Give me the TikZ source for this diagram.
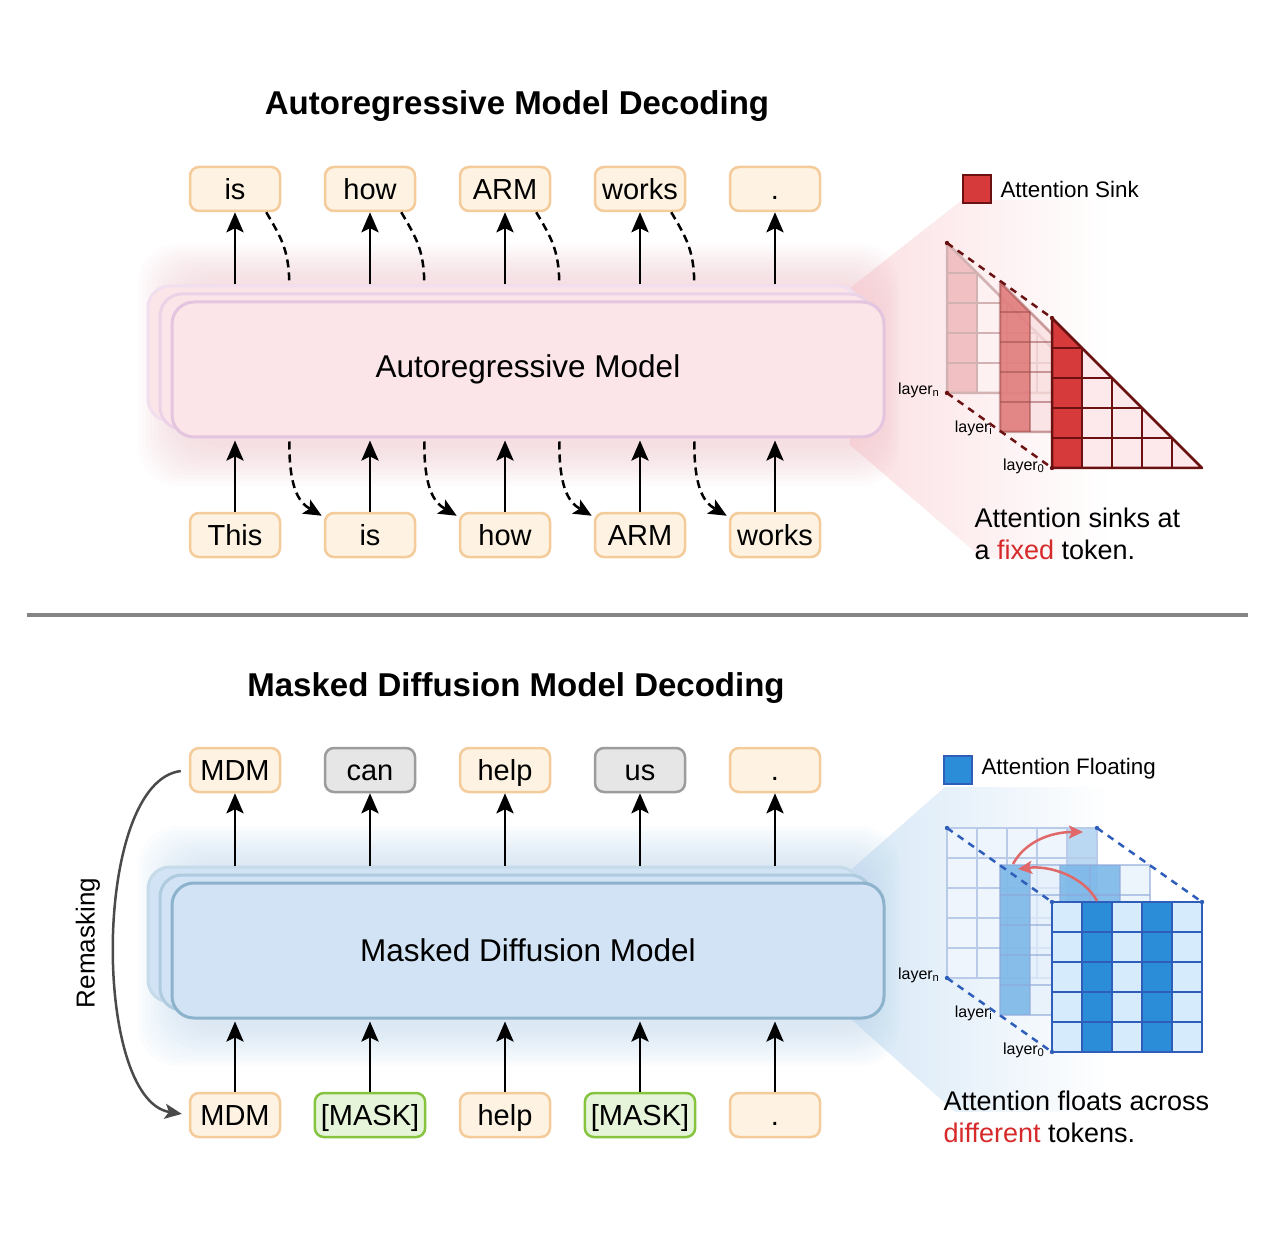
\documentclass[tikz,border=0pt]{standalone}
\usepackage{fontspec}
\setmainfont{Liberation Sans}
\usetikzlibrary{arrows.meta}
\definecolor{tokF}{HTML}{FEF3E2}
\definecolor{tokD}{HTML}{F4CB9A}
\definecolor{grayF}{HTML}{E6E6E6}
\definecolor{grayD}{HTML}{9C9C9C}
\definecolor{greenF}{HTML}{E6F5DA}
\definecolor{greenD}{HTML}{86C440}
\definecolor{arF}{HTML}{FBE5E8}
\definecolor{arD}{HTML}{E3C5DF}
\definecolor{arD2}{HTML}{EBD2E7}
\definecolor{arD3}{HTML}{F1DEEE}
\definecolor{arGlow}{HTML}{F6C8CF}
\definecolor{coneR}{HTML}{FBDFE2}
\definecolor{mdF}{HTML}{D1E3F5}
\definecolor{mdD}{HTML}{8DB3CC}
\definecolor{mdD2}{HTML}{AFCBDF}
\definecolor{mdD3}{HTML}{C6DBEA}
\definecolor{mdGlow}{HTML}{C2DAF1}
\definecolor{coneB}{HTML}{D6E7F6}
\definecolor{sinkC}{HTML}{D63A3A}
\definecolor{sinkD}{HTML}{6B1111}
\definecolor{sinkL}{HTML}{FDE8EC}
\definecolor{midRL}{HTML}{F9DCDE}
\definecolor{midRC}{HTML}{DE6F6F}
\definecolor{midRD}{HTML}{9A4A4A}
\definecolor{backRL}{HTML}{FDF1F2}
\definecolor{backRC}{HTML}{F1C0C2}
\definecolor{backRD}{HTML}{D2B2B2}
\definecolor{floatC}{HTML}{2B8CD8}
\definecolor{floatD}{HTML}{2E5DBA}
\definecolor{floatL}{HTML}{D6EBFB}
\definecolor{midBL}{HTML}{E4F0FB}
\definecolor{midBC}{HTML}{66ACE4}
\definecolor{midBD}{HTML}{8EA8DA}
\definecolor{backBL}{HTML}{EEF5FD}
\definecolor{backBC}{HTML}{BAD8F1}
\definecolor{backBD}{HTML}{BACBEA}
\definecolor{redtxt}{HTML}{D62A2A}
\definecolor{arrRed}{HTML}{E06868}
\definecolor{sepC}{HTML}{858585}
\definecolor{remC}{HTML}{4A4A4A}
\begin{document}
\begin{tikzpicture}[x=1pt,y=-1pt,
  tok/.style={draw=tokD, fill=tokF, line width=2.5pt, rounded corners=9pt,
    minimum width=90pt, minimum height=44pt, inner xsep=6pt, inner ysep=0pt,
    font=\fontsize{29}{34}\selectfont, text height=24pt, text depth=3pt},
  gtok/.style={tok, draw=grayD, fill=grayF},
  mtok/.style={tok, draw=greenD, fill=greenF},
  modelbox/.style={line width=3pt, rounded corners=22pt, minimum width=712pt,
    minimum height=135pt, font=\fontsize{31.5}{37}\selectfont},
  uparr/.style={line width=2.8pt, -{Stealth[length=20pt,width=17pt,inset=4pt]}},
  dsh/.style={line width=2.5pt, dash pattern=on 8pt off 5pt},
  dsharr/.style={dsh, -{Stealth[length=18pt,width=16pt,inset=4pt]}},
  title/.style={font=\fontsize{33}{38}\selectfont\bfseries},
  legtxt/.style={font=\fontsize{22.4}{26}\selectfont, anchor=west},
  captxt/.style={font=\fontsize{27}{32}\selectfont, anchor=base west},
  laytxt/.style={font=\fontsize{16}{18}\selectfont, anchor=east},
  rline/.style={sinkD, line width=2.5pt, dash pattern=on 7pt off 6pt},
  bline/.style={floatD, line width=2.5pt, dash pattern=on 7pt off 6pt},
]
\useasboundingbox (0,0) rectangle (1275,1238);
\fill[white] (0,0) rectangle (1275,1238);

% ================= TOP: Autoregressive =================
\node[title] (t1) at (517,106) {Autoregressive Model Decoding};

% cone
\shade[left color=coneR, right color=white] (845,292) -- (962,200) -- (1110,200) -- (1110,558) -- (982,558) -- (850,445) -- cycle;
% glow
\foreach \k in {0,...,11} {
  \fill[arGlow, fill opacity=0.06, rounded corners=40pt] ({138+\k*4},{244+\k*3.5}) rectangle ({900-\k*2},{486-\k*3.5});
}
% model stack
\node[modelbox, draw=arD3, fill=arF] (arm3) at (504,353.5) {};
\node[modelbox, draw=arD2, fill=arF] (arm2) at (516,361.5) {};
\node[modelbox, draw=arD, fill=arF] (arm) at (528,369.5) {Autoregressive Model};

% tokens
\node[tok] (a1) at (235,189) {is};
\node[tok] (a2) at (370,189) {how};
\node[tok] (a3) at (505,189) {ARM};
\node[tok] (a4) at (640,189) {works};
\node[tok] (a5) at (775,189) {.};
\node[tok] (b1) at (235,535) {This};
\node[tok] (b2) at (370,535) {is};
\node[tok] (b3) at (505,535) {how};
\node[tok] (b4) at (640,535) {ARM};
\node[tok] (b5) at (775,535) {works};

\foreach \i in {1,...,5} {
  \draw[uparr] (a\i.south |- arm3.north) -- (a\i.south);
  \draw[uparr] (b\i.north) -- ([yshift=-2pt]b\i.north |- arm.south);
}
\foreach \i/\j in {1/2,2/3,3/4,4/5} {
  \draw[dsh] ([xshift=-15pt]a\i.south east) .. controls +(14,24) and +(0,-35) .. ([xshift=8pt]a\i.south east |- arm3.north);
  \draw[dsharr] ([xshift=8pt,yshift=-3pt]b\i.east |- arm.south) .. controls +(0,45) and +(-24,-14) .. ([xshift=-2pt,yshift=-4pt]b\j.north west);
}

% legend
\node[draw=sinkD, fill=sinkC, line width=2.5pt, minimum size=28pt, inner sep=0pt] (ls) at (977,189) {};
\node[legtxt] (lst) at (997,189) {Attention Sink};

% back triangular matrix
\begin{scope}[shift={(947,243)}]
  \fill[backRL] (0,0) -- (0,150) -- (150,150) -- cycle;
  \fill[backRC] (0,0) -- (0,150) -- (30,150) -- (30,30) -- cycle;
  \foreach \i in {1,...,4} {
    \draw[backRD, line width=2.5pt] (30*\i,30*\i) -- (30*\i,150);
    \draw[backRD, line width=2.5pt] (0,30*\i) -- (30*\i,30*\i);
  }
  \draw[backRD, line width=2.5pt, line join=round] (0,0) -- (0,150) -- (150,150) -- cycle;
\end{scope}
% middle
\begin{scope}[shift={(1000,282)}]
  \fill[midRL, fill opacity=0.7] (0,0) -- (0,150) -- (150,150) -- cycle;
  \fill[midRC, fill opacity=0.8] (0,0) -- (0,150) -- (30,150) -- (30,30) -- cycle;
  \foreach \i in {1,...,4} {
    \draw[midRD, draw opacity=0.5, line width=2.5pt] (30*\i,30*\i) -- (30*\i,150);
    \draw[midRD, draw opacity=0.5, line width=2.5pt] (0,30*\i) -- (30*\i,30*\i);
  }
  \draw[midRD, draw opacity=0.5, line width=2.5pt, line join=round] (0,0) -- (0,150) -- (150,150) -- cycle;
\end{scope}
% front
\begin{scope}[shift={(1052,318)}]
  \fill[sinkL] (0,0) -- (0,150) -- (150,150) -- cycle;
  \fill[sinkC] (0,0) -- (0,150) -- (30,150) -- (30,30) -- cycle;
  \foreach \i in {1,...,4} {
    \draw[sinkD, line width=2.5pt] (30*\i,30*\i) -- (30*\i,150);
    \draw[sinkD, line width=2.5pt] (0,30*\i) -- (30*\i,30*\i);
  }
  \draw[sinkD, line width=2.5pt, line join=round] (0,0) -- (0,150) -- (150,150) -- cycle;
\end{scope}
\coordinate (rn1) at (947,243); \coordinate (r01) at (1052,318);
\coordinate (rn2) at (947,393); \coordinate (r02) at (1052,468);
\draw[rline] (rn1) -- (r01);
\draw[rline] (rn2) -- (r02);
\foreach \p in {rn1,r01,rn2,r02} \fill[sinkD] (\p) circle (2.2pt);

\node[laytxt] (ln1) at (943,390) {layer\textsubscript{n}};
\node[laytxt] (li1) at (996,428) {layer\textsubscript{i}};
\node[laytxt] (l01) at (1048,466) {layer\textsubscript{0}};

\node[captxt] (c1a) at (971,527) {Attention sinks at};
\node[captxt] (c1b) at (971,559) {a \textcolor{redtxt}{fixed} token.};

% separator
\coordinate (s1) at (27,615); \coordinate (s2) at (1248,615);
\draw[sepC, line width=4pt] (s1) -- (s2);

% ================= BOTTOM: Masked Diffusion =================
\node[title] (t2) at (516,688) {Masked Diffusion Model Decoding};

\shade[left color=coneB, right color=white] (845,875) -- (945,787) -- (1110,787) -- (1110,1112) -- (955,1112) -- (852,1020) -- cycle;
\foreach \k in {0,...,11} {
  \fill[mdGlow, fill opacity=0.06, rounded corners=40pt] ({138+\k*4},{826+\k*3.5}) rectangle ({900-\k*2},{1066-\k*3.5});
}
\node[modelbox, draw=mdD3, fill=mdF] (mdm3) at (504,934.5) {};
\node[modelbox, draw=mdD2, fill=mdF] (mdm2) at (516,942.5) {};
\node[modelbox, draw=mdD, fill=mdF] (mdm) at (528,950.5) {Masked Diffusion Model};

\node[tok] (m1) at (235,770) {MDM};
\node[gtok] (m2) at (370,770) {can};
\node[tok] (m3) at (505,770) {help};
\node[gtok] (m4) at (640,770) {us};
\node[tok] (m5) at (775,770) {.};
\node[tok] (n1) at (235,1115) {MDM};
\node[mtok] (n2) at (370,1115) {[MASK]};
\node[tok] (n3) at (505,1115) {help};
\node[mtok] (n4) at (640,1115) {[MASK]};
\node[tok] (n5) at (775,1115) {.};

\foreach \i in {1,...,5} {
  \draw[uparr] (m\i.south |- mdm3.north) -- (m\i.south);
  \draw[uparr] (n\i.north) -- ([yshift=-2pt]n\i.north |- mdm.south);
}

\draw[remC, line width=2.5pt, -{Stealth[length=17pt,width=15pt,inset=4pt]}, shorten <=8pt, shorten >=7pt]
  (m1.west) .. controls (92,782) and (92,1100) .. (n1.west);
\node[rotate=90, font=\fontsize{26}{30}\selectfont] (rem) at (88,943) {Remasking};

% legend
\node[draw=floatD, fill=floatC, line width=2.5pt, minimum size=28pt, inner sep=0pt] (lf) at (958,770) {};
\node[legtxt] (lft) at (978,769) {Attention Floating};

% back square matrix
\begin{scope}[shift={(947,828)}]
  \fill[backBL] (0,0) rectangle (150,150);
  \fill[backBC] (120,0) rectangle (150,150);
  \foreach \i in {1,...,4} {
    \draw[backBD, line width=2.5pt] (30*\i,0) -- (30*\i,150);
    \draw[backBD, line width=2.5pt] (0,30*\i) -- (150,30*\i);
  }
  \draw[backBD, line width=2.5pt] (0,0) rectangle (150,150);
\end{scope}
% middle
\begin{scope}[shift={(1000,865)}]
  \fill[midBL, fill opacity=0.7] (0,0) rectangle (150,150);
  \fill[midBC, fill opacity=0.75] (0,0) rectangle (30,150);
  \fill[midBC, fill opacity=0.75] (60,0) rectangle (120,150);
  \foreach \i in {1,...,4} {
    \draw[midBD, draw opacity=0.6, line width=2.5pt] (30*\i,0) -- (30*\i,150);
    \draw[midBD, draw opacity=0.6, line width=2.5pt] (0,30*\i) -- (150,30*\i);
  }
  \draw[midBD, draw opacity=0.6, line width=2.5pt] (0,0) rectangle (150,150);
\end{scope}
\coordinate (bn1) at (947,828); \coordinate (b01) at (1052,902);
\coordinate (bn2) at (947,978); \coordinate (b02) at (1052,1052);
\coordinate (bn3) at (1097,828); \coordinate (b03) at (1202,902);
\draw[bline] (bn1) -- (b01);
\draw[bline] (bn2) -- (b02);
\draw[bline] (bn3) -- (b03);
% front
\begin{scope}[shift={(1052,902)}]
  \fill[floatL] (0,0) rectangle (150,150);
  \fill[floatC] (30,0) rectangle (60,150);
  \fill[floatC] (90,0) rectangle (120,150);
  \foreach \i in {1,...,4} {
    \draw[floatD, line width=2.5pt] (30*\i,0) -- (30*\i,150);
    \draw[floatD, line width=2.5pt] (0,30*\i) -- (150,30*\i);
  }
  \draw[floatD, line width=2.5pt] (0,0) rectangle (150,150);
\end{scope}
\foreach \p in {bn1,b01,bn2,b02,bn3,b03} \fill[floatD] (\p) circle (2.2pt);

% floating arrows
\coordinate (fa1) at (1097,901); \coordinate (fa2) at (1018,869);
\coordinate (fa3) at (1013,864); \coordinate (fa4) at (1083,832);
\draw[arrRed, line width=2.5pt, -{Stealth[length=14pt,width=13pt,inset=3pt]}] (fa1) .. controls (1085,878) and (1052,865) .. (fa2);
\draw[arrRed, line width=2.5pt, -{Stealth[length=14pt,width=13pt,inset=3pt]}] (fa3) .. controls (1025,842) and (1050,832) .. (fa4);

\node[laytxt] (ln2) at (943,975) {layer\textsubscript{n}};
\node[laytxt] (li2) at (996,1013) {layer\textsubscript{i}};
\node[laytxt] (l02) at (1048,1050) {layer\textsubscript{0}};

\node[captxt] (c2a) at (940,1110) {Attention floats across};
\node[captxt] (c2b) at (940,1142) {\textcolor{redtxt}{different} tokens.};
\end{tikzpicture}
\end{document}
